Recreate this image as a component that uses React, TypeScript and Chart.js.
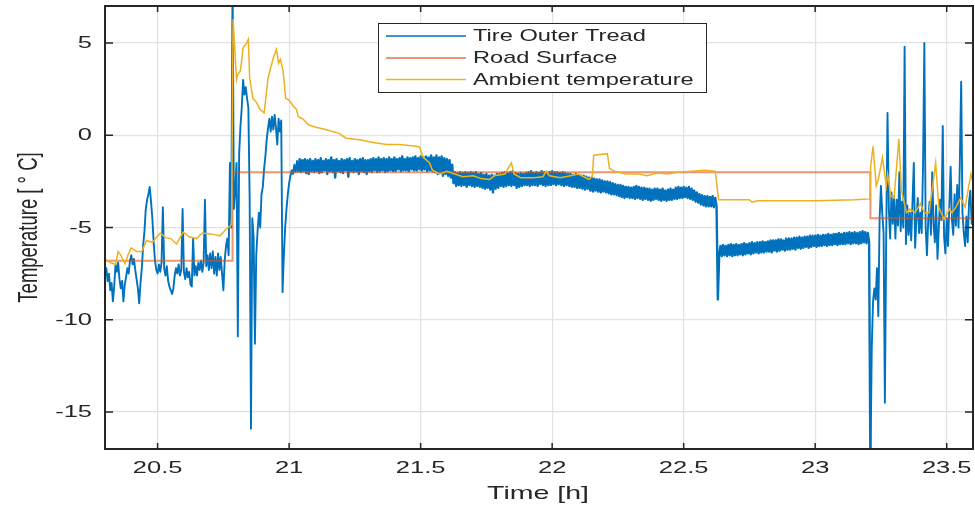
import React, { useEffect, useRef } from "react";
import { Chart, registerables } from "chart.js";

Chart.register(...registerables);

// ---------- data ----------
const xTicks = [20.5, 21, 21.5, 22, 22.5, 23, 23.5];
const xTickLabels = ["20.5", "21", "21.5", "22", "22.5", "23", "23.5"];
const yTicks = [-15, -10, -5, 0, 5];
const yTickLabels = ["-15", "-10", "-5", "0", "5"];
const seriesNames = ["Tire Outer Tread", "Road Surface", "Ambient temperature"];
const xTitle = "Time [h]";
const yTitle = "Temperature [ \u00B0 C]";

// Tire outer tread, sampled every 0.005 h starting at 20.300 h (one row = 0.1 h)
const tireStart = 20.3;
const tireStep = 0.005;
const tireValues = [
  -7.6, -7.2, -7.9, -7.5, -8.4, -8.0, -9.0, -8.2, -7.0, -7.4, -6.9, -7.8, -8.3, -7.9, -9.0, -8.1, -7.7, -7.2, -7.5, -6.8,
  -6.5, -7.0, -6.7, -7.3, -7.8, -8.3, -9.1, -8.0, -7.2, -6.0, -5.2, -4.0, -3.5, -3.2, -2.8, -3.6, -4.5, -5.8, -6.8, -7.3,
  -7.5, -7.0, -7.4, -6.9, -3.9, -7.2, -7.6, -7.1, -7.9, -8.2, -8.4, -8.6, -8.3, -7.6, -7.2, -7.5, -7.0, -7.6, -7.3, -4.0,
  -7.4, -7.8, -7.2, -7.7, -7.4, -8.1, -8.2, -5.6, -7.6, -7.1, -7.6, -6.9, -7.3, -6.8, -7.4, -6.9, -3.5, -7.1, -6.5, -7.3,
  -6.4, -7.2, -6.3, -7.5, -6.6, -7.6, -6.4, -7.3, -6.6, -7.5, -8.4, -6.8, -6.0, -5.6, -6.5, -1.5, -5.0, 8.5, -4.0, -3.0,
  -1.5, -10.9, -1.0, 0.5, 1.5, 3.0, 2.2, 2.6, 2.0, 1.5, -3.5, -15.9, -4.5, -5.5, -11.3, -6.5, -5.2, -4.2, -5.0, -3.2,
  -2.8, -1.8, -1.1, -0.2, 0.4, 0.9, 0.2, 1.0, 0.3, 1.1, 0.4, -0.5, 0.9, 0.2, 0.8, -8.5, -6.5, -5.0, -4.0, -3.2,
  -2.6, -2.2, -1.9, -2.1, -1.6, -2.0, -1.4, -2.0, -1.3, -2.0, -1.35, -1.95, -1.3, -2.05, -1.35, -2.1, -1.3, -1.95, -1.4, -2.0,
  -1.3, -1.95, -1.35, -2.05, -1.25, -2.0, -1.4, -1.9, -1.3, -2.1, -1.35, -1.95, -1.2, -2.0, -1.35, -2.3, -1.3, -1.95, -1.4, -2.0,
  -1.3, -2.05, -1.35, -1.9, -1.3, -2.25, -1.25, -1.95, -1.4, -2.0, -1.3, -1.95, -1.35, -2.1, -1.3, -1.95, -1.25, -2.0, -1.35, -2.1,
  -1.35, -1.95, -1.3, -2.0, -1.25, -1.9, -1.3, -2.0, -1.2, -1.95, -1.3, -1.9, -1.25, -2.0, -1.3, -1.95, -1.2, -1.9, -1.3, -1.95,
  -1.2, -1.95, -1.3, -1.85, -1.25, -1.95, -1.15, -1.9, -1.3, -1.9, -1.2, -1.95, -1.25, -1.85, -1.2, -1.9, -1.15, -1.9, -1.25, -1.85,
  -1.15, -1.9, -1.2, -1.85, -1.15, -1.95, -1.2, -1.9, -1.1, -1.95, -1.2, -2.0, -1.1, -2.1, -1.2, -2.05, -1.15, -2.2, -1.25, -2.1,
  -1.3, -2.2, -1.35, -2.3, -1.6, -2.6, -2.0, -2.75, -2.05, -2.7, -2.0, -2.75, -2.05, -2.7, -2.0, -2.8, -2.05, -2.7, -2.0, -2.75,
  -2.05, -2.8, -2.0, -2.75, -2.1, -2.8, -2.05, -2.85, -2.15, -2.9, -2.1, -2.85, -2.2, -2.95, -2.15, -3.1, -2.2, -2.9, -2.1, -2.85,
  -2.1, -2.75, -2.05, -2.8, -2.0, -2.75, -2.05, -2.7, -2.0, -2.75, -1.95, -2.7, -2.05, -2.85, -2.1, -2.8, -2.05, -2.75, -2.1, -2.7,
  -2.05, -2.7, -2.0, -2.75, -1.95, -2.7, -2.05, -2.7, -2.0, -2.75, -2.05, -2.65, -1.95, -2.7, -2.0, -2.75, -2.05, -2.7, -2.0, -2.7,
  -1.95, -2.65, -2.0, -2.7, -2.0, -2.65, -2.05, -2.7, -2.0, -2.75, -2.05, -2.7, -2.1, -2.75, -2.1, -2.8, -2.15, -2.8, -2.1, -2.85,
  -2.15, -2.85, -2.2, -2.9, -2.2, -2.95, -2.25, -2.9, -2.3, -3.0, -2.3, -3.05, -2.35, -3.0, -2.4, -3.05, -2.4, -3.1, -2.45, -3.05,
  -2.5, -3.1, -2.5, -3.15, -2.55, -3.2, -2.6, -3.2, -2.65, -3.25, -2.7, -3.3, -2.7, -3.35, -2.75, -3.4, -2.8, -3.35, -2.8, -3.4,
  -2.85, -3.4, -2.8, -3.45, -2.75, -3.4, -2.8, -3.45, -2.85, -3.5, -2.85, -3.45, -2.9, -3.5, -2.9, -3.55, -2.95, -3.5, -2.9, -3.45,
  -2.9, -3.5, -2.95, -3.55, -2.9, -3.5, -3.0, -3.55, -2.95, -3.5, -2.9, -3.5, -2.95, -3.45, -2.85, -3.45, -2.8, -3.4, -2.85, -3.4,
  -2.8, -3.35, -2.85, -3.4, -2.8, -3.45, -2.9, -3.5, -3.0, -3.6, -3.1, -3.65, -3.2, -3.75, -3.25, -3.8, -3.3, -3.85, -3.3, -3.85,
  -3.35, -3.85, -3.3, -3.9, -3.4, -3.85, -8.9, -6.5, -6.0, -6.55, -5.95, -6.5, -6.0, -6.55, -5.95, -6.5, -5.9, -6.55, -5.95, -6.5,
  -5.9, -6.5, -5.95, -6.45, -5.9, -6.5, -5.85, -6.45, -5.9, -6.4, -5.85, -6.45, -5.8, -6.4, -5.85, -6.35, -5.8, -6.4, -5.8, -6.35,
  -5.75, -6.35, -5.8, -6.3, -5.75, -6.3, -5.7, -6.35, -5.7, -6.25, -5.7, -6.3, -5.65, -6.25, -5.65, -6.2, -5.7, -6.25, -5.6, -6.2,
  -5.6, -6.2, -5.6, -6.15, -5.55, -6.2, -5.55, -6.1, -5.5, -6.15, -5.55, -6.1, -5.5, -6.05, -5.5, -6.1, -5.45, -6.05, -5.45, -6.0,
  -5.45, -6.05, -5.4, -6.0, -5.45, -6.0, -5.4, -5.95, -5.4, -6.0, -5.35, -5.95, -5.4, -5.95, -5.35, -5.9, -5.35, -5.95, -5.3, -5.9,
  -5.35, -5.9, -5.3, -5.9, -5.3, -5.85, -5.25, -5.9, -5.3, -5.85, -5.25, -5.85, -5.3, -5.9, -5.25, -5.85, -5.2, -5.8, -5.25, -5.85,
  -5.3, -5.8, -18.0, -11.6, -9.0, -8.3, -8.9, -7.2, -9.8, -4.5, -2.75, -4.2, -5.3, -14.5, -5.5, 1.2, -4.0, -5.6, -3.1, -4.8,
  -3.3, -5.6, -3.5, -4.9, -2.0, -5.2, -3.6, -5.0, 4.8, -5.9, -3.8, -5.4, -4.2, -5.7, -3.6, -1.5, -6.1, -4.5, -3.4, -5.3,
  -4.2, -5.3, -1.7, 5.0, -5.0, -6.5, -4.5, -3.6, -5.4, -2.0, -4.8, -5.8, -3.8, -6.7, -5.0, -3.5, -4.6, 0.5, -5.5, -6.4,
  -4.5, -6.0, -3.8, -1.7, -4.6, -5.4, -3.2, -4.9, -2.7, -5.0, -1.4, 2.9, -4.2, -5.3, -6.0, -4.4, -5.8, -3.6, -3.0, -4.8,
  -4.0,
];

// Road surface (step changes)
const roadTimes = [20.3, 20.785, 20.785, 23.21, 23.21, 23.6];
const roadValues = [-6.8, -6.8, -2.0, -2.0, -4.5, -4.5];

// Ambient temperature
const ambientTimes = [
  20.3, 20.32, 20.34, 20.35, 20.36, 20.376, 20.39, 20.4, 20.42, 20.44,
  20.458, 20.48, 20.51, 20.53, 20.55, 20.572, 20.597, 20.62, 20.648, 20.67,
  20.7, 20.72, 20.737, 20.76, 20.781, 20.787, 20.8, 20.805, 20.815, 20.825,
  20.835, 20.845, 20.85, 20.862, 20.875, 20.889, 20.905, 20.92, 20.94, 20.952,
  20.96, 20.967, 20.977, 20.987, 21.0, 21.015, 21.028, 21.035, 21.053, 21.075,
  21.098, 21.142, 21.19, 21.216, 21.268, 21.32, 21.37, 21.42, 21.484, 21.496,
  21.51, 21.534, 21.545, 21.572, 21.6, 21.63, 21.66, 21.7, 21.73, 21.762,
  21.78, 21.82, 21.845, 21.855, 21.88, 21.93, 21.965, 21.977, 21.99, 22.03,
  22.07, 22.1, 22.14, 22.153, 22.158, 22.21, 22.218, 22.24, 22.28, 22.33,
  22.36, 22.4, 22.44, 22.48, 22.53, 22.58, 22.62, 22.633, 22.7, 22.75,
  22.76, 22.78, 23.0, 23.15, 23.208, 23.211, 23.22, 23.232, 23.24, 23.256,
  23.27, 23.275, 23.288, 23.3, 23.318, 23.328, 23.347, 23.36, 23.38, 23.4,
  23.415, 23.433, 23.458, 23.47, 23.49, 23.51, 23.52, 23.535, 23.553, 23.57,
  23.592, 23.6,
];
const ambientValues = [
  -6.7, -6.9, -7.0, -6.3, -6.5, -6.95, -6.4, -6.1, -6.3, -6.3,
  -5.7, -5.8, -5.3, -5.55, -5.6, -5.9, -5.25, -5.5, -5.6, -5.3,
  -5.35, -5.4, -5.45, -5.1, -4.85, 6.3, 3.0, 3.3, 3.5, 4.75,
  4.9, 5.2, 3.1, 2.0, 1.8, 1.4, 1.2, 3.1, 4.2, 4.65,
  3.9, 4.1, 3.5, 2.0, 1.9, 1.6, 1.4, 1.0, 0.87, 0.55,
  0.45, 0.3, 0.1, -0.16, -0.25, -0.4, -0.5, -0.5, -0.6, -0.65,
  -1.2, -1.5, -1.9, -2.1, -1.95, -2.1, -2.25, -2.2, -2.35, -2.4,
  -2.2, -2.1, -1.5, -2.1, -2.3, -2.3, -2.25, -1.95, -2.2, -2.3,
  -2.2, -2.1, -2.4, -2.2, -1.08, -1.0, -1.8, -1.97, -2.1, -2.1,
  -2.2, -2.05, -2.1, -2.0, -1.95, -1.9, -1.95, -3.5, -3.5, -3.5,
  -3.63, -3.55, -3.55, -3.5, -3.45, -1.67, -0.6, -2.75, -2.4, -1.2,
  -2.75, -2.1, -3.3, -3.4, -0.2, -3.0, -4.2, -4.0, -4.2, -3.7,
  -4.2, -4.2, -1.5, -3.9, -4.55, -4.0, -4.2, -3.9, -3.4, -3.9,
  -2.1, -2.6,
];

// ---------- styles ----------
const X_MIN = 20.3;
const X_MAX = 23.6;
const Y_MIN = -17;
const Y_MAX = 7;
const seriesColors = ["#0072BD", "rgba(217,83,25,0.6)", "#EDB120"];
const seriesWidths = [1.5, 2, 1.5];
const TEXT_COLOR = "#262626";
const FONT = '"Liberation Sans", Arial, Helvetica, sans-serif';
const BAND_FROM = 21.035;
const BAND_TO = 23.208;

function drawText(ctx: any, text: string, x: number, y: number, size: number, sx: number, align: string, baseline: string) {
  ctx.save();
  ctx.translate(x, y);
  ctx.scale(sx, 1);
  ctx.font = `${size}px ${FONT}`;
  ctx.fillStyle = TEXT_COLOR;
  ctx.textAlign = align;
  ctx.textBaseline = baseline;
  ctx.fillText(text, 0, 0);
  ctx.restore();
}

const matlabAxes = {
  id: "matlabAxes",
  afterDatasetsDraw(chart: any) {
    const { ctx, chartArea: a, scales } = chart;
    const xs = scales.x;
    const ys = scales.y;
    ctx.save();
    ctx.strokeStyle = TEXT_COLOR;
    ctx.lineWidth = 1.5;
    ctx.beginPath();
    xTicks.forEach((v) => {
      const p = xs.getPixelForValue(v);
      ctx.moveTo(p, a.bottom);
      ctx.lineTo(p, a.bottom - 6);
      ctx.moveTo(p, a.top);
      ctx.lineTo(p, a.top + 6);
    });
    yTicks.forEach((v) => {
      const p = ys.getPixelForValue(v);
      ctx.moveTo(a.left, p);
      ctx.lineTo(a.left + 8, p);
      ctx.moveTo(a.right, p);
      ctx.lineTo(a.right - 8, p);
    });
    ctx.stroke();
    ctx.lineWidth = 2;
    ctx.strokeRect(a.left, a.top, a.right - a.left, a.bottom - a.top);
    ctx.restore();
  },
  afterDraw(chart: any) {
    const { ctx, chartArea: a, scales } = chart;
    const xs = scales.x;
    const ys = scales.y;
    ctx.save();
    xTicks.forEach((v, i) => {
      drawText(ctx, xTickLabels[i], xs.getPixelForValue(v), 468, 17, 1.5, "center", "middle");
    });
    yTicks.forEach((v, i) => {
      drawText(ctx, yTickLabels[i], 92, ys.getPixelForValue(v) + 0.5, 17, 1.5, "right", "middle");
    });
    drawText(ctx, xTitle, (a.left + a.right) / 2 - 1, 498.5, 19, 1.5, "center", "alphabetic");
    ctx.save();
    ctx.translate(37, (a.top + a.bottom) / 2);
    ctx.rotate(-Math.PI / 2);
    ctx.scale(1, 1.5);
    ctx.font = `18.5px ${FONT}`;
    ctx.fillStyle = TEXT_COLOR;
    ctx.textAlign = "center";
    ctx.textBaseline = "alphabetic";
    ctx.fillText(yTitle, 0, 0);
    ctx.restore();
    // legend
    const lx = 378, ly = 23, lw = 328, lh = 69;
    ctx.fillStyle = "#ffffff";
    ctx.fillRect(lx, ly, lw, lh);
    ctx.strokeStyle = TEXT_COLOR;
    ctx.lineWidth = 1;
    ctx.strokeRect(lx + 0.5, ly + 0.5, lw, lh);
    const rows = [36, 58, 79.5];
    seriesNames.forEach((name, i) => {
      ctx.beginPath();
      ctx.strokeStyle = seriesColors[i];
      ctx.lineWidth = seriesWidths[i];
      ctx.moveTo(386, rows[i]);
      ctx.lineTo(466, rows[i]);
      ctx.stroke();
      drawText(ctx, name, 473, rows[i] + 0.5, 17, 1.39, "left", "middle");
    });
    ctx.restore();
  },
};

export default function App() {
  const canvasRef = useRef<HTMLCanvasElement | null>(null);

  useEffect(() => {
    const canvas = canvasRef.current;
    if (!canvas) return;
    const tireData = tireValues.map((v, i) => ({ x: +(tireStart + i * tireStep).toFixed(3), y: v }));
    const roadData = roadTimes.map((t, i) => ({ x: t, y: roadValues[i] }));
    const ambientData = ambientTimes.map((t, i) => ({ x: t, y: ambientValues[i] }));

    const chart = new Chart(canvas, {
      type: "line",
      data: {
        datasets: [
          {
            label: seriesNames[0],
            data: tireData,
            borderColor: seriesColors[0],
            borderWidth: 1.9,
            borderJoinStyle: "round",
            pointRadius: 0,
            tension: 0,
            order: 3,
            segment: {
              borderWidth: (c: any) => {
                const x0 = c.p0.parsed.x;
                return x0 >= BAND_FROM && x0 < BAND_TO ? 2.4 : 1.9;
              },
            },
          },
          {
            label: seriesNames[1],
            data: roadData,
            borderColor: seriesColors[1],
            borderWidth: seriesWidths[1],
            pointRadius: 0,
            tension: 0,
            order: 2,
          },
          {
            label: seriesNames[2],
            data: ambientData,
            borderColor: seriesColors[2],
            borderWidth: seriesWidths[2],
            pointRadius: 0,
            tension: 0,
            order: 1,
          },
        ],
      },
      options: {
        animation: false,
        responsive: true,
        maintainAspectRatio: false,
        devicePixelRatio: 1,
        parsing: false as any,
        events: [],
        layout: { padding: { left: 0, top: 6, right: 2, bottom: 0 } },
        plugins: {
          legend: { display: false },
          tooltip: { enabled: false },
          title: { display: false },
        },
        scales: {
          x: {
            type: "linear",
            min: X_MIN,
            max: X_MAX,
            ticks: { display: false },
            grid: { color: "#e2e2e2", lineWidth: 1.2, drawTicks: false },
            border: { display: false },
            afterBuildTicks: (scale: any) => {
              scale.ticks = xTicks.map((v) => ({ value: v }));
            },
            afterFit: (scale: any) => {
              scale.height = 59;
            },
          },
          y: {
            type: "linear",
            min: Y_MIN,
            max: Y_MAX,
            ticks: { display: false },
            grid: { color: "#e2e2e2", lineWidth: 1.2, drawTicks: false },
            border: { display: false },
            afterBuildTicks: (scale: any) => {
              scale.ticks = yTicks.map((v) => ({ value: v }));
            },
            afterFit: (scale: any) => {
              scale.width = 105;
            },
          },
        },
      },
      plugins: [matlabAxes],
    });
    return () => chart.destroy();
  }, []);

  return (
    <div style={{ position: "fixed", left: 0, top: 0, width: 975, height: 508, background: "#ffffff" }}>
      <canvas ref={canvasRef} />
    </div>
  );
}
